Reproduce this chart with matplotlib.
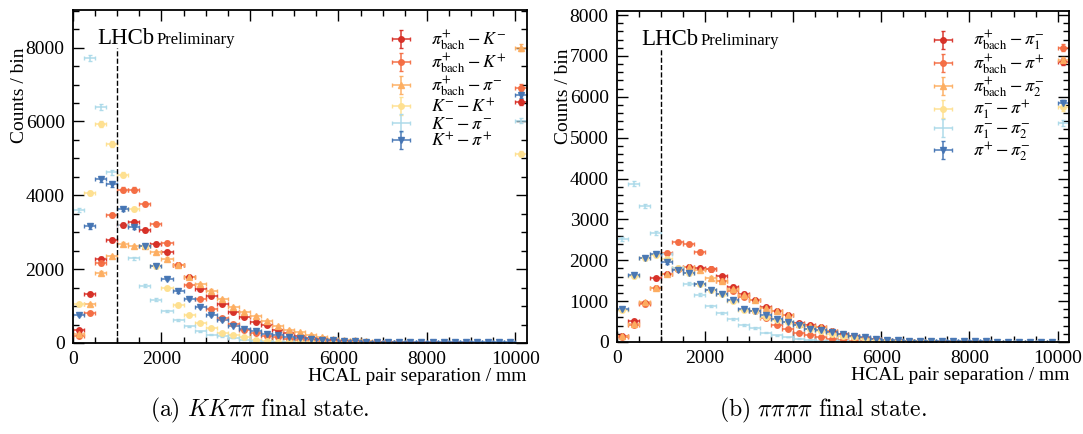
import numpy as np
import matplotlib
matplotlib.use('Agg')
import matplotlib.pyplot as plt
from matplotlib.ticker import MultipleLocator
from matplotlib.font_manager import FontProperties

plt.rcParams['font.family'] = ['Liberation Serif', 'DejaVu Serif']
plt.rcParams['mathtext.fontset'] = 'stix'

# ---------------- data ----------------
bin_width = 250
bin_edges = np.arange(0, 10001, bin_width)

labels_kk = [r'$\pi^{+}_{\mathrm{bach}} - K^{-}$', r'$\pi^{+}_{\mathrm{bach}} - K^{+}$',
             r'$\pi^{+}_{\mathrm{bach}} - \pi^{-}$', r'$K^{-} - K^{+}$',
             r'$K^{-} - \pi^{-}$', r'$K^{+} - \pi^{+}$']
labels_pp = [r'$\pi^{+}_{\mathrm{bach}} - \pi^{-}_{1}$', r'$\pi^{+}_{\mathrm{bach}} - \pi^{+}$',
             r'$\pi^{+}_{\mathrm{bach}} - \pi^{-}_{2}$', r'$\pi^{-}_{1} - \pi^{+}$',
             r'$\pi^{-}_{1} - \pi^{-}_{2}$', r'$\pi^{+} - \pi^{-}_{2}$']

# KK pi pi final state (40 bins of 250 mm) + overflow
kk_bach_Km = [343, 1335, 2282, 2778, 3202, 3275, 3067, 2679, 2463, 2120, 1780, 1461, 1281, 1055, 839, 694,
              559, 478, 343, 271, 200, 135, 100, 75, 55, 40, 28, 20, 14, 10, 7, 5, 3, 2, 1, 1, 0, 0, 0, 0]
kk_bach_Kp = [180, 803, 2165, 3464, 4150, 4150, 3771, 3229, 2706, 2100, 1581, 1200, 920, 676, 523, 361,
              271, 198, 150, 110, 80, 55, 40, 28, 20, 14, 10, 7, 5, 3, 2, 1, 1, 0, 0, 0, 0, 0, 0, 0]
kk_bach_pim = [250, 1064, 1894, 2345, 2679, 2616, 2616, 2455, 2273, 2100, 1777, 1597, 1416, 1191, 965, 850,
               720, 590, 469, 360, 290, 226, 162, 120, 90, 70, 50, 35, 25, 18, 12, 8, 5, 3, 2, 1, 1, 0, 0, 0]
kk_Km_Kp = [1064, 4060, 5927, 5395, 4556, 3627, 2620, 2080, 1480, 1040, 767, 541, 406, 271, 226, 153,
            90, 60, 40, 30, 20, 14, 10, 7, 5, 3, 2, 1, 1, 0, 0, 0, 0, 0, 0, 0, 0, 0, 0, 0]
kk_Km_pim = [3608, 7713, 6387, 4619, 3200, 2290, 1555, 1172, 857, 612, 451, 315, 226, 180, 135, 90,
             60, 40, 25, 15, 10, 6, 4, 2, 1, 1, 0, 0, 0, 0, 0, 0, 0, 0, 0, 0, 0, 0, 0, 0]
kk_Kp_pip = [767, 3157, 4438, 4303, 3626, 3130, 2616, 2075, 1741, 1405, 1200, 975, 767, 612, 469, 388,
             315, 244, 210, 162, 140, 108, 90, 72, 55, 45, 36, 30, 27, 25, 23, 22, 21, 20, 20, 19, 18, 18, 17, 17]
kk_overflow = [6540, 6919, 8001, 5124, 6026, 6721]

# pi pi pi pi final state
pp_bach_pi1 = [150, 506, 963, 1555, 1655, 1780, 1840, 1800, 1790, 1609, 1347, 1185, 1020, 850, 760, 650,
               470, 420, 360, 270, 200, 140, 95, 65, 45, 30, 20, 13, 8, 5, 3, 2, 1, 1, 0, 0, 0, 0, 0, 0]
pp_bach_pip = [120, 408, 922, 1322, 2170, 2450, 2392, 2204, 1775, 1500, 1250, 1102, 750, 590, 425, 310,
               230, 160, 110, 70, 45, 28, 18, 11, 7, 4, 2, 1, 1, 0, 0, 0, 0, 0, 0, 0, 0, 0, 0, 0]
pp_bach_pi2 = [140, 450, 979, 1322, 1655, 1822, 1836, 1773, 1577, 1486, 1290, 1145, 1020, 842, 759, 653,
               450, 400, 367, 260, 204, 139, 95, 65, 45, 30, 20, 13, 8, 5, 3, 2, 1, 1, 0, 0, 0, 0, 0, 0]
pp_pi1_pip = [775, 1608, 2065, 2122, 2041, 1800, 1700, 1430, 1270, 1185, 1000, 776, 760, 620, 540, 500,
              420, 330, 260, 200, 150, 110, 80, 60, 45, 33, 25, 18, 13, 10, 8, 6, 5, 4, 3, 3, 2, 2, 2, 2]
pp_pi1_pi2 = [2514, 3877, 3330, 2669, 2164, 1800, 1430, 1160, 881, 719, 555, 408, 343, 230, 163, 122,
              82, 55, 35, 22, 14, 9, 5, 3, 2, 1, 0, 0, 0, 0, 0, 0, 0, 0, 0, 0, 0, 0, 0, 0]
pp_pip_pi2 = [816, 1633, 2057, 2147, 1959, 1773, 1689, 1430, 1283, 1185, 1020, 800, 760, 653, 560, 490,
              420, 330, 286, 245, 190, 150, 110, 82, 57, 41, 30, 25, 20, 18, 16, 15, 14, 13, 12, 12, 11, 11, 10, 10]
pp_overflow = [6857, 7200, 6898, 5739, 5347, 5837]

colors = ['#d73027', '#f46d43', '#fdae61', '#fee090', '#abd9e9', '#4575b4']
markers = ['o', 'o', '^', 'o', '', 'v']

centers = 0.5 * (bin_edges[:-1] + bin_edges[1:])
x_all = np.append(centers, bin_edges[-1] + bin_width / 2)


def draw(ax, series, overflow, labels, ymax, ymajor, yminor, ycap):
    for vals, ov, lab, col, mk in zip(series, overflow, labels, colors, markers):
        y = np.array(list(vals) + [ov], dtype=float)
        y[y <= 0] = np.nan
        err = np.sqrt(y)
        ax.errorbar(x_all, y, xerr=bin_width / 2, yerr=err, fmt=(mk if mk else 'none'),
                    color=col, ms=4, elinewidth=1.1, capsize=1.5, capthick=1.0,
                    label=lab, alpha=0.95)
    ax.set_xlim(0, 10260)
    ax.set_ylim(0, ymax)
    ax.xaxis.set_major_locator(MultipleLocator(2000))
    ax.xaxis.set_minor_locator(MultipleLocator(500))
    ax.yaxis.set_major_locator(MultipleLocator(ymajor))
    ax.yaxis.set_minor_locator(MultipleLocator(yminor))
    ax.tick_params(which='both', direction='in', top=True, right=True, labelsize=14)
    ax.tick_params(which='major', length=8, width=1.0, pad=6)
    ax.tick_params(which='minor', length=4, width=1.0)
    for s in ax.spines.values():
        s.set_linewidth(1.3)
    ax.axvline(1000, ymin=0, ymax=ycap, color='black', ls='--', lw=1.0)
    ax.set_xlabel('HCAL pair separation / mm', fontsize=14, loc='right')
    ax.set_ylabel('Counts / bin', fontsize=14, loc='top')
    ax.xaxis.set_label_coords(1.0, -0.075)
    ax.yaxis.set_label_coords(-0.1, 0.886)
    ax.text(0.053, 0.898, 'LHCb', transform=ax.transAxes, fontsize=16.5, va='baseline')
    ax.text(0.184, 0.898, 'Preliminary', transform=ax.transAxes, fontsize=12, va='baseline')
    ax.legend(loc='upper left', bbox_to_anchor=(0.70, 0.945), frameon=False, fontsize=13,
              handlelength=1.1, handletextpad=1.1, labelspacing=-0.05, borderpad=0, borderaxespad=0)


fig = plt.figure(figsize=(10.83, 4.34), dpi=100)
ax1 = fig.add_axes([0.0674, 0.2097, 0.4192, 0.7673])
ax2 = fig.add_axes([0.5697, 0.212, 0.4174, 0.7627])

draw(ax1, [kk_bach_Km, kk_bach_Kp, kk_bach_pim, kk_Km_Kp, kk_Km_pim, kk_Kp_pip], kk_overflow,
     labels_kk, 9020, 2000, 500, 0.885)
draw(ax2, [pp_bach_pi1, pp_bach_pip, pp_bach_pi2, pp_pi1_pip, pp_pi1_pi2, pp_pip_pi2], pp_overflow,
     labels_pp, 8100, 1000, 200, 0.889)

cap_fp = FontProperties(family='DejaVu Serif', size=17)
cap_fp.set_math_fontfamily('cm')
fig.text(0.24, 0.055, r'$\mathrm{(a)}\ KK\pi\pi\ \mathrm{final\ state.}$', ha='center', va='center',
         fontproperties=cap_fp)
fig.text(0.76, 0.055, r'$\mathrm{(b)}\ \pi\pi\pi\pi\ \mathrm{final\ state.}$', ha='center', va='center',
         fontproperties=cap_fp)

fig.savefig('out.png', dpi=100)
